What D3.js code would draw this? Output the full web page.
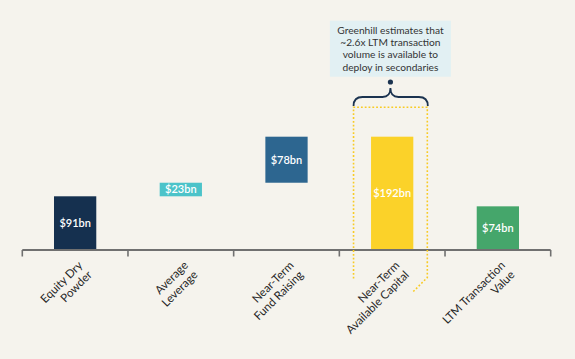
<!DOCTYPE html>
<html>
<head>
<meta charset="utf-8">
<script src="https://cdn.jsdelivr.net/npm/d3@7"></script>
<style>
  html, body { margin: 0; padding: 0; background: #f5f3ed; }
  svg { display: block; }
  text { font-family: Lato, "Open Sans", sans-serif; }
</style>
</head>
<body>
<svg id="chart" width="575" height="359"></svg>
<script>
// ---- data ----
const categories = [
  ["Equity Dry", "Powder"],
  ["Average", "Leverage"],
  ["Near-Term", "Fund Raising"],
  ["Near-Term", "Available Capital"],
  ["LTM Transaction", "Value"]
];
const values = [91, 23, 78, 192, 74];
const valueLabels = ["$91bn", "$23bn", "$78bn", "$192bn", "$74bn"];
const barKinds = ["start", "step", "step", "total", "total"];
const barColors = ["#15304f", "#4cc3c9", "#2d6690", "#fbd229", "#45a66b"];
const annotationLines = [
  "Greenhill estimates that",
  "~2.6x LTM transaction",
  "volume is available to",
  "deploy in secondaries"
];
const highlightIndex = 3;

// ---- layout ----
const svg = d3.select("#chart");
svg.append("rect").attr("width", 575).attr("height", 359).attr("fill", "#f5f3ed");

const axisY = 250;
const x = d3.scaleBand()
  .domain(d3.range(categories.length))
  .range([22.3, 550.7])
  .paddingInner(0.6)
  .paddingOuter(0.3);
const y = d3.scaleLinear().domain([0, 192]).range([axisY, 136.7]);

// compute waterfall bases
let running = 0;
const bars = values.map((v, i) => {
  let base;
  if (barKinds[i] === "start") { base = 0; running = v; }
  else if (barKinds[i] === "step") { base = running; running += v; }
  else { base = 0; }
  return { i, v, base, top: base + v };
});

// bars
svg.append("g").selectAll("rect").data(bars).join("rect")
  .attr("x", d => x(d.i))
  .attr("width", x.bandwidth())
  .attr("y", d => y(d.top))
  .attr("height", d => y(d.base) - y(d.top))
  .attr("fill", (d) => barColors[d.i]);

// bar labels
svg.append("g").selectAll("text").data(bars).join("text")
  .attr("x", d => x(d.i) + x.bandwidth() / 2)
  .attr("y", d => (y(d.base) + y(d.top)) / 2)
  .attr("dy", "0.35em")
  .attr("text-anchor", "middle")
  .attr("fill", "#ffffff")
  .attr("font-size", 11)
  .attr("font-weight", 600)
  .text(d => valueLabels[d.i]);

// axis: line with ticks at band boundaries
const step = x.step();
const r0 = x.range()[0];
const tickPos = d3.range(categories.length + 1).map(k => r0 + k * step);
const axisG = svg.append("g");
axisG.append("line")
  .attr("x1", tickPos[0]).attr("x2", tickPos[tickPos.length - 1])
  .attr("y1", axisY).attr("y2", axisY)
  .attr("stroke", "#707070").attr("stroke-width", 2);
axisG.selectAll("line.tick").data(tickPos).join("line")
  .attr("class", "tick")
  .attr("x1", d => d).attr("x2", d => d)
  .attr("y1", axisY).attr("y2", axisY + 6.5)
  .attr("stroke", "#707070").attr("stroke-width", 1.6);

// category labels rotated
const labG = svg.append("g");
categories.forEach((lines, i) => {
  const cx = x(i) + x.bandwidth() / 2 + 8;
  const cy = axisY + 16;
  const t = labG.append("text")
    .attr("transform", `translate(${cx},${cy}) rotate(-45)`)
    .attr("text-anchor", "end")
    .attr("fill", "#262626")
    .attr("font-size", 11.5);
  lines.forEach((ln, j) => {
    t.append("tspan").attr("x", 0).attr("dy", j === 0 ? 0 : 13.5).text(ln);
  });
});

// dotted highlight box around the highlighted bar
const hx0 = x(highlightIndex) - 17.5;
const hx1 = x(highlightIndex) + x.bandwidth() + 14;
const hTop = 107.3;
const yellow = "#f8cb24";
svg.append("path")
  .attr("d", `M${hx0},278.5 L${hx0},${hTop} L${hx1},${hTop} L${hx1},277.5 L${hx1 - 15},292.5`)
  .attr("fill", "none")
  .attr("stroke", yellow)
  .attr("stroke-width", 1.6)
  .attr("stroke-dasharray", "1.8,2");

// brace
const bx0 = hx0, bx1 = hx1 + 0.5, bcx = (hx0 + hx1) / 2;
const navy = "#1b3350";
svg.append("path")
  .attr("d", `M${bx0},106 Q${bx0},97 ${bx0 + 9},97 L${bcx - 8},97 Q${bcx},97 ${bcx},88 Q${bcx},97 ${bcx + 8},97 L${bx1 - 9},97 Q${bx1},97 ${bx1},106`)
  .attr("fill", "none").attr("stroke", navy).attr("stroke-width", 1.8);
svg.append("circle").attr("cx", bcx).attr("cy", 82).attr("r", 2.6).attr("fill", navy);

// annotation box
const boxW = 121, boxH = 56;
svg.append("rect")
  .attr("x", bcx - boxW / 2).attr("y", 20.7)
  .attr("width", boxW).attr("height", boxH)
  .attr("fill", "#e2f0f3");
svg.append("g").selectAll("text").data(annotationLines).join("text")
  .attr("x", bcx)
  .attr("y", (d, k) => 33.6 + k * 12.4)
  .attr("text-anchor", "middle")
  .attr("fill", "#333333")
  .attr("font-size", 10.2)
  .text(d => d);
</script>
</body>
</html>
